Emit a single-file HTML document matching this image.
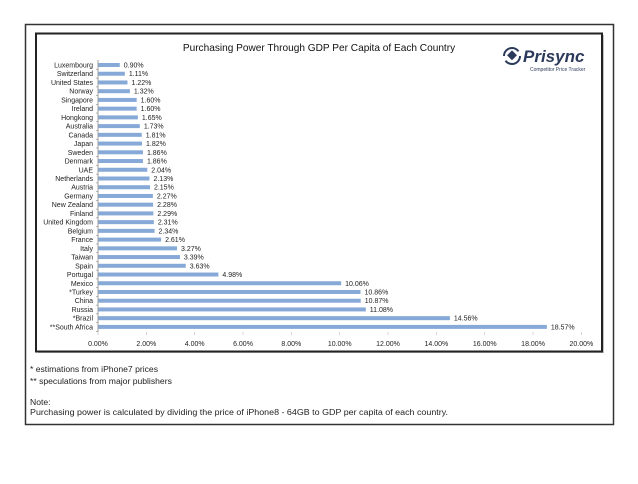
<!DOCTYPE html>
<html><head><meta charset="utf-8"><style>
body{margin:0;background:#fff;width:638px;height:479px;overflow:hidden;font-family:"Liberation Sans",sans-serif}
</style></head><body>
<svg width="638" height="479" xmlns="http://www.w3.org/2000/svg">
<rect x="25.5" y="24.5" width="588" height="400" fill="#fff" stroke="#333" stroke-width="1.5"/>
<rect x="38" y="35" width="566" height="318" fill="#888" opacity="0.5"/>
<rect x="36" y="33.5" width="566" height="318" fill="#fff" stroke="#222" stroke-width="2"/>
<text x="319" y="51" text-anchor="middle" font-size="10.1" fill="#111">Purchasing Power Through GDP Per Capita of Each Country</text>
<g>
<circle cx="512" cy="56" r="8" fill="none" stroke="#2b3a5a" stroke-width="2" stroke-dasharray="20 5"/>
<rect x="508" y="52" width="7" height="7" fill="#2b3a5a" transform="rotate(45 512 56)"/>
<text x="523" y="62" font-size="17" font-weight="bold" font-style="italic" fill="#2b3a5a">Prisync</text>
<text x="530" y="71" font-size="5" fill="#2b3a5a">Competitor Price Tracker</text>
</g>
<g id="bars"></g>
<text x="30" y="372" font-size="8.6" fill="#222">* estimations from iPhone7 prices</text>
<text x="30" y="384" font-size="8.6" fill="#222">** speculations from major publishers</text>
<text x="30" y="405" font-size="8.6" fill="#222">Note:</text>
<text x="30" y="415" font-size="8.6" fill="#222" textLength="418" lengthAdjust="spacingAndGlyphs">Purchasing power is calculated by dividing the price of iPhone8 - 64GB to GDP per capita of each country.</text>
</svg>
<script>
const countries=["Luxembourg","Switzerland","United States","Norway","Singapore","Ireland","Hongkong","Australia","Canada","Japan","Sweden","Denmark","UAE","Netherlands","Austria","Germany","New Zealand","Finland","United Kingdom","Belgium","France","Italy","Taiwan","Spain","Portugal","Mexico","*Turkey","China","Russia","*Brazil","**South Africa"];
const values=[0.90,1.11,1.22,1.32,1.60,1.60,1.65,1.73,1.81,1.82,1.86,1.86,2.04,2.13,2.15,2.27,2.28,2.29,2.31,2.34,2.61,3.27,3.39,3.63,4.98,10.06,10.86,10.87,11.08,14.56,18.57];
const ticks=[0,2,4,6,8,10,12,14,16,18,20];
const NS="http://www.w3.org/2000/svg",g=document.getElementById('bars');
const x=v=>98+v*24.17, y=i=>65+i*8.73;
function mk(t,a){const e=document.createElementNS(NS,t);for(const k in a)e.setAttribute(k,a[k]);g.appendChild(e);return e;}
let ax=mk('line',{x1:98,y1:60,x2:98,y2:332,stroke:'#888','stroke-width':0.8});


countries.forEach((c,i)=>{
 let b=mk('rect',{x:98.5,y:y(i)-2,width:x(values[i])-98.5,height:4,fill:'#86a9d8'});
 
 
 let l=mk('text',{x:93,y:y(i)+2.5,'text-anchor':'end','font-size':7,fill:'#222'});l.textContent=c;
 
 
 let v=mk('text',{x:x(values[i])+4,y:y(i)+2.5,'font-size':7,fill:'#222'});v.textContent=values[i].toFixed(2)+'%';
 
 
 let tk=mk('line',{x1:96,x2:98,y1:y(i)+4.4,y2:y(i)+4.4,stroke:'#888','stroke-width':0.6});
 
 
});
ticks.forEach(t=>{
 let l=mk('text',{x:x(t),y:346,'text-anchor':'middle','font-size':7,fill:'#222'});l.textContent=t.toFixed(2)+'%';
 
 
 let tk=mk('line',{x1:x(t),x2:x(t),y1:332,y2:335,stroke:'#bbb','stroke-width':0.6});
 
 
});
</script>
</body></html>
